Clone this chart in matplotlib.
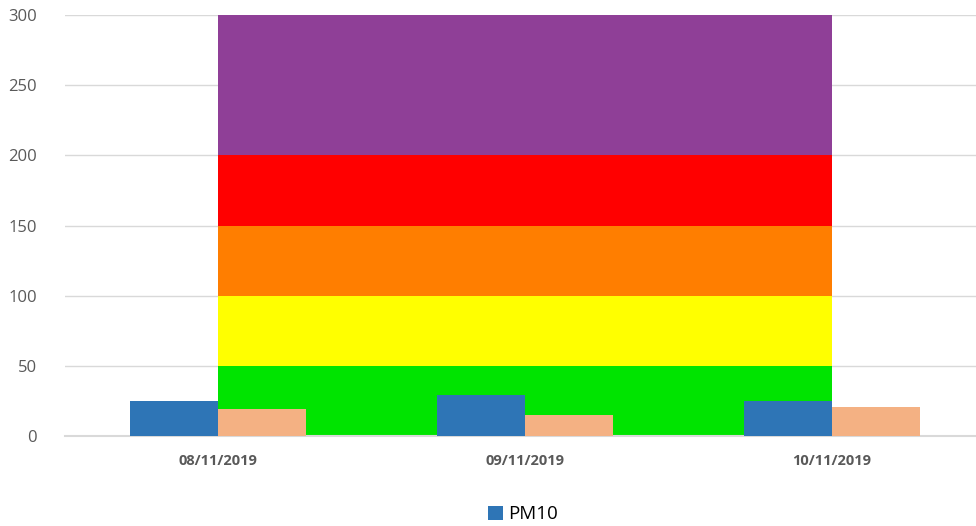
import numpy as np
import matplotlib.pyplot as plt

# data
dates = ["08/11/2019", "09/11/2019", "10/11/2019"]
pm10 = [25, 29, 25]
second_series = [19, 15, 21]

# air-quality bands (height of each band, stacked from 0)
band_heights = [50, 50, 50, 50, 100]
band_colors = ["#00e400", "#ffff00", "#ff7e00", "#ff0000", "#8f3f97"]

plt.rcParams["font.family"] = ["Open Sans", "DejaVu Sans"]

fig = plt.figure(figsize=(9.76, 5.26), dpi=100)
ax = fig.add_axes([65 / 976, 90 / 526, 920 / 976, 421 / 526])

x = np.arange(len(dates))

# stacked background bands spanning from first to last category
base = np.zeros(len(dates))
for h, c in zip(band_heights, band_colors):
    top = base + h
    ax.fill_between(x, base, top, color=c, linewidth=0, zorder=1)
    base = top

w = 0.287
ax.bar(x - w / 2, pm10, width=w, color="#2e75b6", label="PM10", zorder=3)
ax.bar(x + w / 2, second_series, width=w, color="#f4b183", zorder=3)

ax.set_xlim(-0.5, 2.5)
ax.set_ylim(0, 300)
ax.set_yticks(range(0, 301, 50))
ax.set_xticks(x)
ax.set_xticklabels(dates, fontsize=10.5, fontweight="bold", color="#595959")
ax.tick_params(axis="y", labelsize=12, labelcolor="#595959", length=0, pad=20)
ax.tick_params(axis="x", length=0, pad=13)
for lab in ax.get_yticklabels():
    lab.set_horizontalalignment("right")

ax.grid(axis="y", color="#d9d9d9", linewidth=1, zorder=0)
ax.set_axisbelow(True)
for s in ["left", "right", "top"]:
    ax.spines[s].set_visible(False)
ax.spines["bottom"].set_color("#d9d9d9")
ax.spines["bottom"].set_linewidth(1.5)

fig.legend(loc="lower center", bbox_to_anchor=(523 / 976, -0.027), frameon=False,
           fontsize=13.5, handlelength=0.8, handleheight=0.8, handletextpad=0.3)

fig.savefig("out.png", dpi=100)
